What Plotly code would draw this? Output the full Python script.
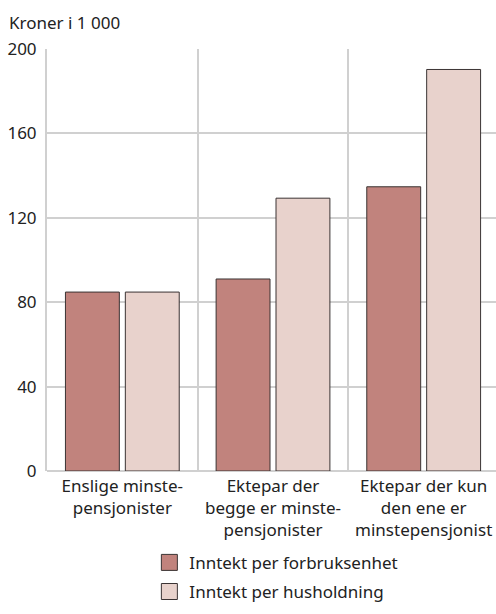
import plotly.graph_objects as go

categories = ["Enslige minste-<br>pensjonister",
              "Ektepar der<br>begge er minste-<br>pensjonister",
              "Ektepar der kun<br>den ene er<br>minstepensjonist"]
per_forbruksenhet = [84.8, 91.0, 134.7]
per_husholdning = [84.8, 129.3, 190.3]
series_names = ["Inntekt per forbruksenhet", "Inntekt per husholdning"]
series_colors = ["#c1837d", "#e8d2cc"]
y_ticks = [0, 40, 80, 120, 160, 200]

FONT = "Noto Sans"
FS = 17
EDGE = "#3a3333"
fig = go.Figure()
for vals, name, col in zip([per_forbruksenhet, per_husholdning], series_names, series_colors):
    fig.add_trace(go.Bar(x=categories, y=vals, name=name, legendgroup=name,
                         showlegend=False,
                         marker=dict(color=col, line=dict(color=EDGE, width=1))))
# legend entries with larger square swatches
for name, col in zip(series_names, series_colors):
    fig.add_trace(go.Scatter(x=[None], y=[None], mode="markers", name=name,
                             legendgroup=name, showlegend=True,
                             marker=dict(symbol="square", size=16, color=col,
                                         line=dict(color=EDGE, width=1))))

fig.update_layout(
    width=496, height=614,
    margin=dict(l=47, r=0, t=49, b=143),
    paper_bgcolor="white", plot_bgcolor="white",
    font=dict(family=FONT, size=FS, color="#222"),
    barmode="group", bargap=0.205, bargroupgap=0.1,
    showlegend=True,
    legend=dict(x=0.228, xanchor="left", y=-0.175, yanchor="top",
                orientation="v", font=dict(size=FS, color="#222"),
                itemsizing="trace",
                tracegroupgap=4, traceorder="grouped"),
    annotations=[dict(text="Kroner i 1 000", xref="paper", yref="paper",
                      x=-0.088, y=1.031, xanchor="left", yanchor="bottom",
                      showarrow=False, font=dict(size=FS, color="#222"))],
)
fig.update_xaxes(type="category", tickson="boundaries", showgrid=True,
                 gridcolor="#d0d0d0", gridwidth=2, ticks="", range=[-0.5, 2.48],
                 showline=False, automargin=False, ticklabelstandoff=3,
                 tickfont=dict(size=FS, color="#222"))
fig.update_yaxes(range=[0, 200], tickvals=y_ticks, showgrid=True,
                 gridcolor="#d0d0d0", gridwidth=2, showline=True,
                 linecolor="#d0d0d0", linewidth=2, zeroline=True,
                 zerolinecolor="#d0d0d0", zerolinewidth=2, ticks="",
                 automargin=False, ticklabelstandoff=5,
                 tickfont=dict(size=FS, color="#222"))
fig.write_html("out.html", config={"displayModeBar": False},
               post_script="document.body.style.margin='0';document.body.style.overflow='hidden';")
